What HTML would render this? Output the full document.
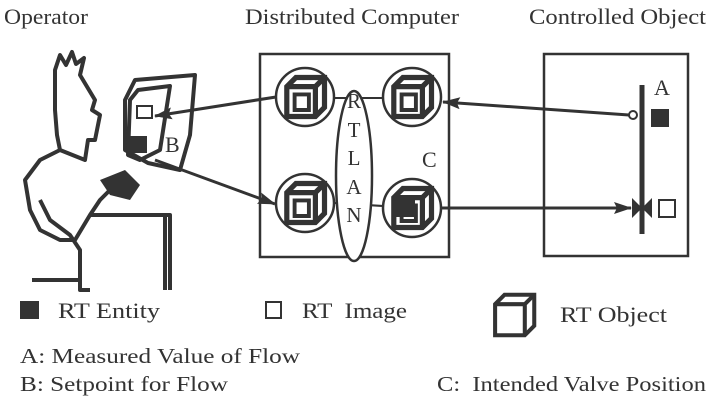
<!DOCTYPE html>
<html><head><meta charset="utf-8"><style>
html,body{margin:0;padding:0;background:#fff;}
svg{display:block;}
text{font-family:"Liberation Serif",serif;fill:#333;}
</style></head><body>
<svg width="714" height="404" viewBox="0 0 714 404" xmlns="http://www.w3.org/2000/svg">
<defs>
<marker id="ah" markerWidth="18" markerHeight="12" refX="17" refY="6" orient="auto" markerUnits="userSpaceOnUse">
<path d="M0,0 L18,6 L0,12 L3,6 Z" fill="#333"/></marker>
<g id="cube">
<path d="M-14,-8 L-7,-15 L15,-15 L15,8 L8,15 L-14,15 Z" fill="none" stroke="#333" stroke-width="4"/>
<path d="M-14,-8 L8,-8 L8,15 M8,-8 L15,-15" fill="none" stroke="#333" stroke-width="4"/>
<path d="M-8,-2 L3,-2 L3,10 L-8,10 Z" fill="none" stroke="#333" stroke-width="3"/>
</g>
</defs>
<g font-size="22">
<text x="4" y="24" textLength="84" lengthAdjust="spacingAndGlyphs">Operator</text>
<text x="245" y="24" textLength="214" lengthAdjust="spacingAndGlyphs">Distributed Computer</text>
<text x="529" y="24" textLength="177" lengthAdjust="spacingAndGlyphs">Controlled Object</text>
</g>
<!-- operator sketch -->
<g fill="none" stroke="#333" stroke-width="4" stroke-linejoin="round">
<path d="M55,70 L60,55 L66,65 L72,52 L76,64 L84,58 L80,75 L95,100 L92,110 L100,115 L97,130 L95,140 L88,140 L85,160 L60,150 L57,135 L55,110 Z"/>
<path d="M60,150 L40,160 L25,180 L30,210 L40,230 L60,240 L75,240 L90,215 L100,200 L110,190"/>
<path d="M40,200 L50,220 L70,235 L80,250 L80,290 L90,290"/>
<path d="M90,215 L170,215 L170,290 M165,215 L165,290"/>
<path d="M32,280 L80,280"/>
<path d="M135,80 L195,75 L190,135 L180,170 L148,163 L125,150 L125,100 Z"/>
<path d="M138,90 L170,86 L160,150 L140,160 L128,155 L130,100 Z"/>
</g>
<path d="M100,180 L125,170 L140,185 L130,200 L110,195 Z" fill="#333"/>
<rect x="137" y="106" width="15" height="12" fill="#fff" stroke="#333" stroke-width="2"/>
<rect x="130" y="136" width="17" height="17" fill="#333"/>
<text x="165" y="152" font-size="22">B</text>
<!-- distributed computer -->
<rect x="260" y="54" width="189" height="203" fill="none" stroke="#333" stroke-width="2.5"/>
<line x1="334" y1="98" x2="383" y2="98" stroke="#333" stroke-width="2"/>
<line x1="334" y1="203" x2="383" y2="206" stroke="#333" stroke-width="2"/>
<ellipse cx="354" cy="176" rx="18" ry="85" fill="#fff" stroke="#333" stroke-width="2.5"/>
<g font-size="21" text-anchor="middle">
<text x="354" y="108">R</text><text x="354" y="137">T</text><text x="354" y="165">L</text><text x="354" y="194">A</text><text x="354" y="222">N</text>
</g>
<text x="422" y="167" font-size="22">C</text>
<g fill="#fff" stroke="#333" stroke-width="2.5">
<circle cx="305" cy="97" r="29"/><circle cx="412" cy="97" r="29"/>
<circle cx="305" cy="203" r="29"/><circle cx="412" cy="208" r="29"/>
</g>
<g transform="translate(305,97) scale(1.3)"><use href="#cube"/></g>
<g transform="translate(412,97) scale(1.3)"><use href="#cube"/></g>
<g transform="translate(305,203) scale(1.3)"><use href="#cube"/></g>
<g transform="translate(412,208) scale(1.3)"><use href="#cube"/></g>
<rect x="396" y="197" width="19" height="20" fill="#333"/>
<!-- controlled object -->
<rect x="544" y="54" width="144" height="202" fill="none" stroke="#333" stroke-width="2.5"/>
<line x1="642" y1="85" x2="642" y2="234" stroke="#333" stroke-width="5"/>
<path d="M632,198 L652,218 L652,198 L632,218 Z" fill="#333"/>
<circle cx="633" cy="115" r="4" fill="#fff" stroke="#333" stroke-width="2"/>
<rect x="651" y="109" width="18" height="18" fill="#333"/>
<rect x="659" y="200" width="16" height="17" fill="#fff" stroke="#333" stroke-width="2"/>
<text x="654" y="95" font-size="22">A</text>
<!-- arrows -->
<g stroke="#333" stroke-width="3" fill="none">
<line x1="276" y1="97" x2="155" y2="116" marker-end="url(#ah)"/>
<line x1="155" y1="160" x2="275" y2="204" marker-end="url(#ah)"/>
<line x1="629" y1="115" x2="443" y2="102" marker-end="url(#ah)"/>
<line x1="441" y1="208" x2="631" y2="208" marker-end="url(#ah)"/>
</g>
<!-- legend -->
<rect x="20" y="301" width="19" height="18" fill="#333"/>
<text x="58" y="318" font-size="22" textLength="102" lengthAdjust="spacingAndGlyphs">RT Entity</text>
<rect x="266" y="302" width="15" height="16" fill="#fff" stroke="#333" stroke-width="2"/>
<text x="302" y="318" font-size="22" xml:space="preserve" textLength="105" lengthAdjust="spacingAndGlyphs">RT  Image</text>
<g transform="translate(514,315) scale(1.35)">
<path d="M-14,-8 L-7,-15 L15,-15 L15,8 L8,15 L-14,15 Z" fill="none" stroke="#333" stroke-width="3"/>
<path d="M-14,-8 L8,-8 L8,15 M8,-8 L15,-15" fill="none" stroke="#333" stroke-width="3"/>
</g>
<text x="560" y="322" font-size="22" textLength="107" lengthAdjust="spacingAndGlyphs">RT Object</text>
<text x="20" y="363" font-size="21" textLength="280" lengthAdjust="spacingAndGlyphs">A: Measured Value of Flow</text>
<text x="20" y="391" font-size="21" textLength="208" lengthAdjust="spacingAndGlyphs">B: Setpoint for Flow</text>
<text x="437" y="391" font-size="21" xml:space="preserve" textLength="269" lengthAdjust="spacingAndGlyphs">C:  Intended Valve Position</text>
</svg>
</body></html>
